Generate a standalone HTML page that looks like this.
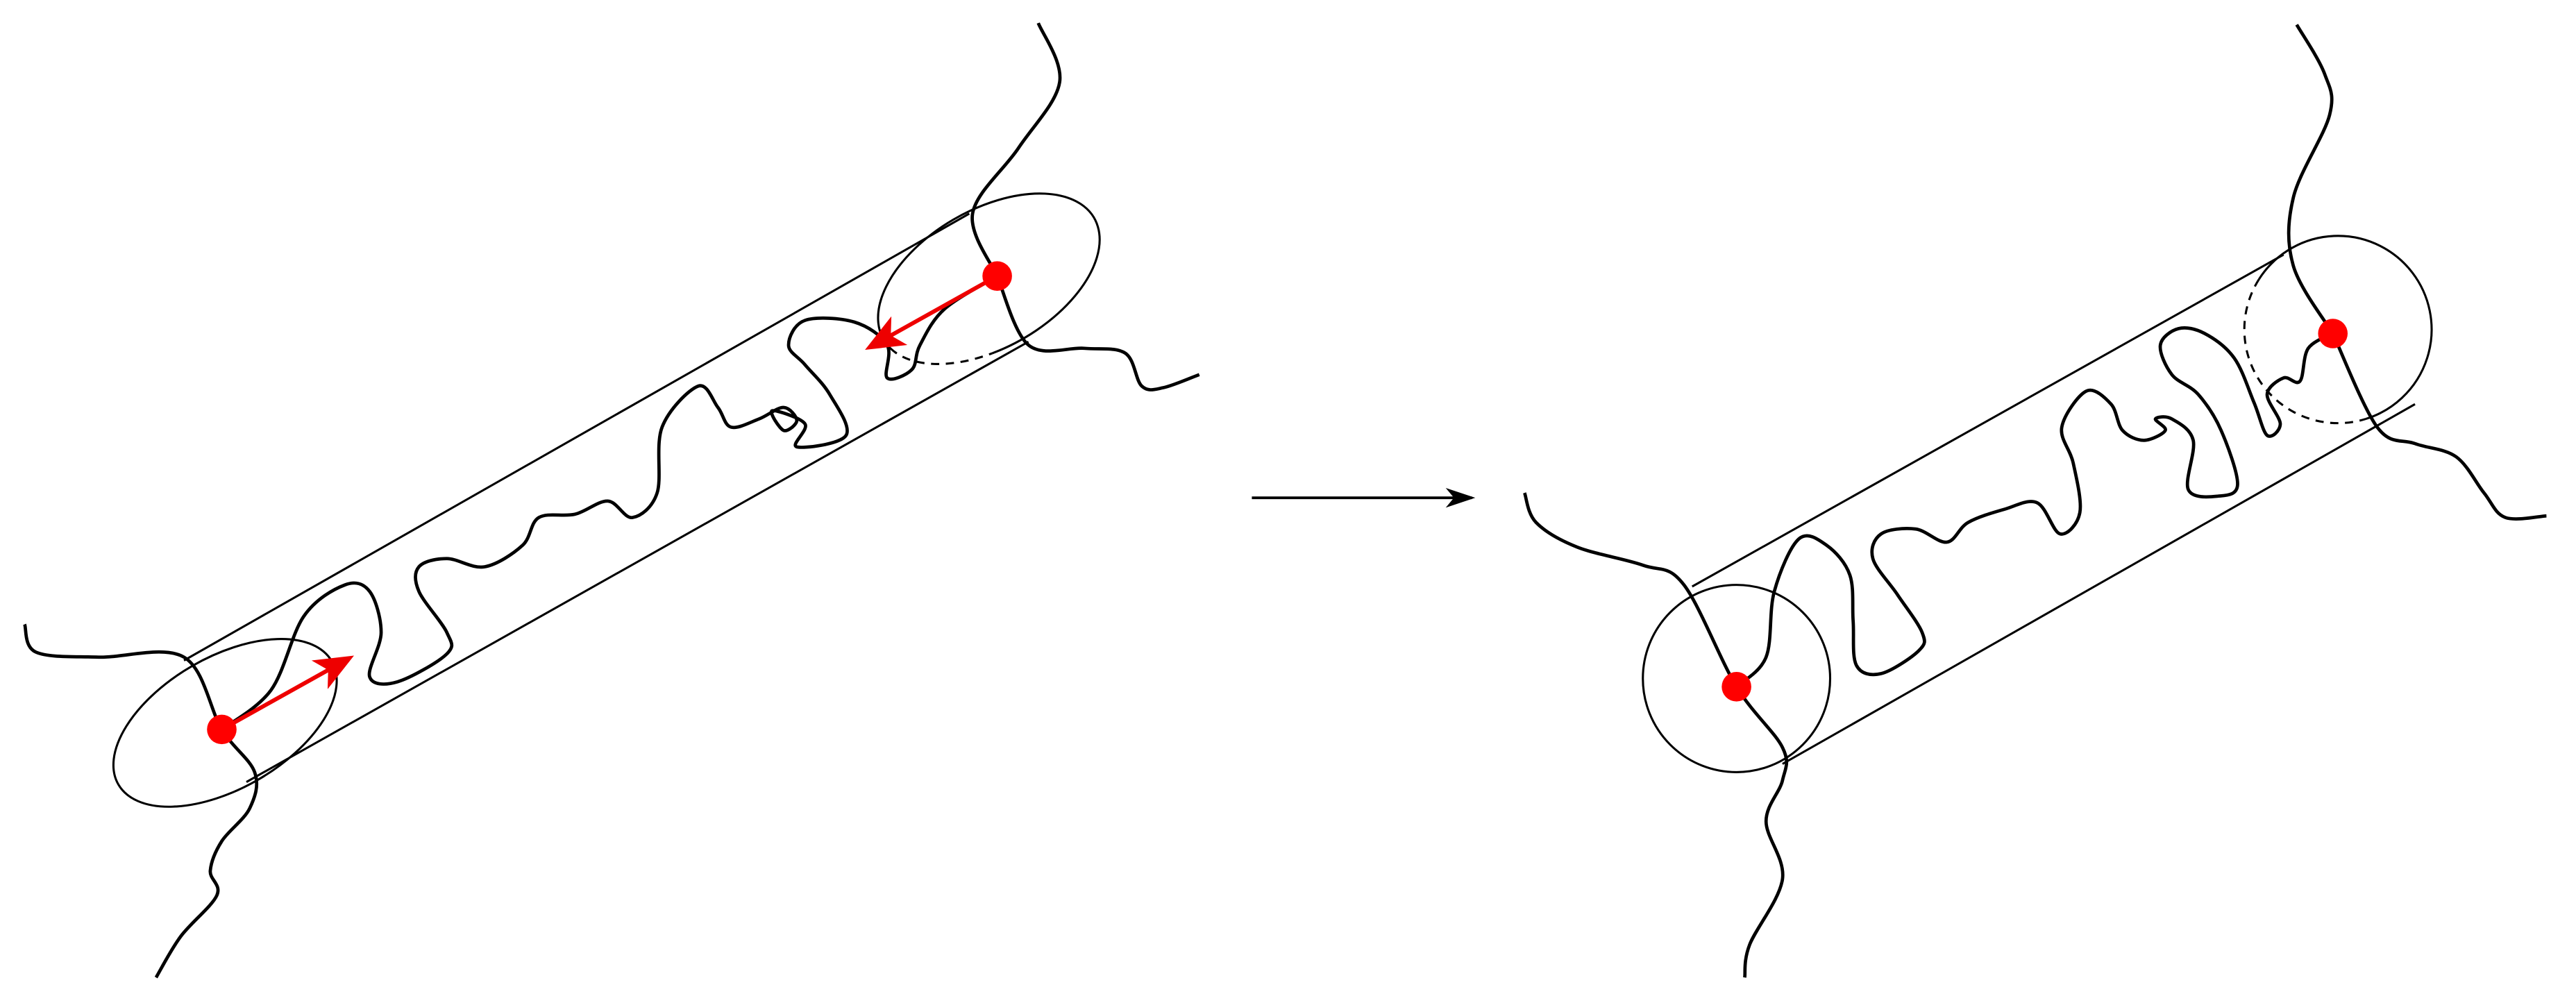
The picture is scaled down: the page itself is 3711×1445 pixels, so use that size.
<!DOCTYPE html>
<html><head><meta charset="utf-8"><style>
html,body{margin:0;padding:0;background:#fff;}
svg{display:block;}
</style></head><body>
<svg id="s" width="3711" height="1445" viewBox="0 0 1568 610.5" xmlns="http://www.w3.org/2000/svg">
<defs>
<marker id="ah" markerWidth="18" markerHeight="12" refX="16" refY="6" orient="auto" markerUnits="userSpaceOnUse"><path d="M0,0 L18,6 L0,12 L5,6 Z" fill="#000"/></marker>
<marker id="rh" markerWidth="24" markerHeight="20" refX="20" refY="10" orient="auto" markerUnits="userSpaceOnUse"><path d="M0,0 L24,10 L0,20 L6,10 Z" fill="#e00"/></marker>
</defs>
<g fill="none" stroke="#000" stroke-width="1.3">
<ellipse cx="137" cy="440" rx="75" ry="40" transform="rotate(-30 137 440)"/>
<path d="M542,212 A74,42 -30 1 1 604,215"/>
<path d="M542,212 A74,42 -30 0 0 604,215" stroke-dasharray="5,4"/>
<line x1="112" y1="402" x2="590" y2="130"/>
<line x1="150" y1="476" x2="626" y2="208"/>
<circle cx="1057" cy="413" r="57"/>
<path d="M1375,170 A57,57 0 1 1 1440,255"/>
<path d="M1375,170 A57,57 0 0 0 1440,255" stroke-dasharray="5,4"/>
<line x1="1030" y1="357" x2="1390" y2="155"/>
<line x1="1085" y1="465" x2="1470" y2="246"/>
<line x1="762" y1="303" x2="896" y2="303" stroke-width="1.6" marker-end="url(#ah)"/>
</g>
<g id="chains" fill="none" stroke="#000" stroke-width="2"></g>
<line x1="135" y1="444" x2="212" y2="401" stroke="#e00" stroke-width="2.5" marker-end="url(#rh)"/>
<line x1="607" y1="168" x2="530" y2="211" stroke="#e00" stroke-width="2.5" marker-end="url(#rh)"/>
<circle cx="135" cy="444" r="9" fill="#f00"/>
<circle cx="607" cy="168" r="9" fill="#f00"/>
<circle cx="1057" cy="418" r="9" fill="#f00"/>
<circle cx="1420" cy="203" r="9" fill="#f00"/>
</svg>
<script>
var P=[
[[15,380],[22,397],[60,400],[112,400],[135,444],[155,470],[152,492],[135,512],[128,530],[132,545],[110,570],[95,595]],
[[135,444],[165,420],[185,375],[210,356],[225,360],[232,385],[225,412],[242,415],[272,398],[272,385],[255,360],[255,345],[272,340],[295,345],[318,332],[328,315],[350,313],[370,305],[385,315],[400,300],[403,260],[425,235],[437,248],[445,260],[462,255],[477,248],[485,256],[477,262],[470,250],[490,258],[485,272],[515,265],[505,240],[490,222],[480,210],[490,195],[520,196],[540,210],[540,230],[555,225],[560,210],[575,188],[607,168]],
[[607,168],[592,130],[620,90],[645,50],[632,14]],
[[607,168],[626,210],[660,212],[685,215],[695,235],[708,236],[730,228]],
[[928,300],[935,318],[960,333],[1000,344],[1025,356],[1057,418],[1085,455],[1085,475],[1075,500],[1085,535],[1065,575],[1062,595]],
[[1057,418],[1075,400],[1080,360],[1095,328],[1112,332],[1126,350],[1128,378],[1130,405],[1145,410],[1168,396],[1170,385],[1155,362],[1140,340],[1145,325],[1166,322],[1185,330],[1198,318],[1220,310],[1240,306],[1254,325],[1266,312],[1262,282],[1255,260],[1270,238],[1285,246],[1292,262],[1305,268],[1318,262],[1312,255],[1322,255],[1335,268],[1332,298],[1350,302],[1362,295],[1352,262],[1338,240],[1322,228],[1315,210],[1326,200],[1342,203],[1360,218],[1372,245],[1380,265],[1388,258],[1380,240],[1390,230],[1400,232],[1405,212],[1420,203]],
[[1420,203],[1396,162],[1396,120],[1418,70],[1415,45],[1398,15]],
[[1420,203],[1447,260],[1470,270],[1495,278],[1512,300],[1525,315],[1550,314]]
];
function cr(p){var d="M"+p[0][0]+","+p[0][1];for(var i=0;i<p.length-1;i++){var a=p[i-1]||p[i],b=p[i],c=p[i+1],e=p[i+2]||c;
d+=" C"+(b[0]+(c[0]-a[0])/6)+","+(b[1]+(c[1]-a[1])/6)+" "+(c[0]-(e[0]-b[0])/6)+","+(c[1]-(e[1]-b[1])/6)+" "+c[0]+","+c[1];}return d;}
var g=document.getElementById("chains");
P.forEach(function(p){var e=document.createElementNS("http://www.w3.org/2000/svg","path");e.setAttribute("d",cr(p));g.appendChild(e);});
</script>
</body></html>
